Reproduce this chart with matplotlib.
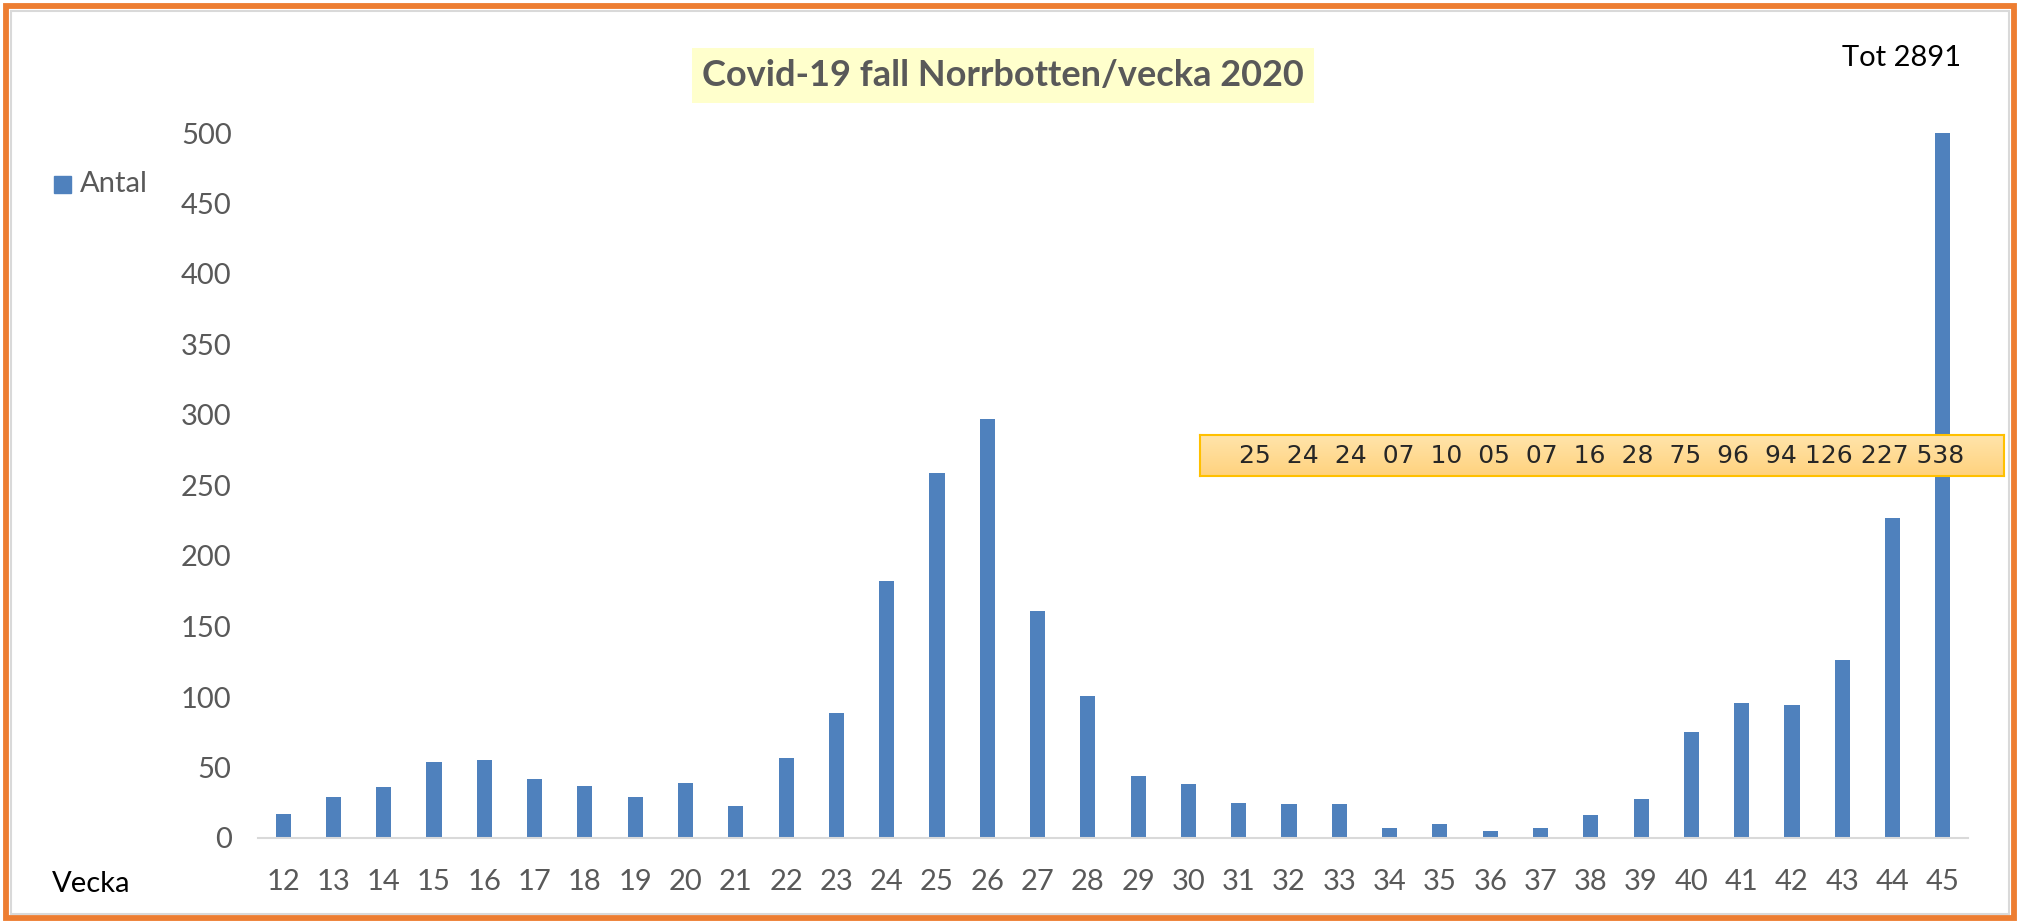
import numpy as np
import matplotlib
matplotlib.use("Agg")
import matplotlib.pyplot as plt
from matplotlib.patches import Rectangle
from matplotlib.colors import LinearSegmentedColormap

vecka = list(range(12, 46))
antal = [17, 29, 36, 54, 55, 42, 37, 29, 39, 23, 57, 89, 182, 259, 297, 161, 101, 44, 38,
         25, 24, 24, 7, 10, 5, 7, 16, 28, 75, 96, 94, 126, 227, 538]
yticks = list(range(0, 501, 50))
title = "Covid-19 fall Norrbotten/vecka 2020"
total_text = "Tot 2891"
# numbers shown in the callout box (week 31 onwards)
box_vals = antal[19:]

plt.rcParams['font.family'] = ['Lato', 'DejaVu Sans']

W, H = 2020, 923
fig = plt.figure(figsize=(W / 100, H / 100), dpi=100)

def fx(px):
    return px / W

def fy(py):
    return 1 - py / H

# main axes
ax = fig.add_axes([fx(258), fy(838), fx(1968 - 258), (838 - 133) / H])
x = np.arange(len(vecka))
ax.bar(x, antal, width=0.3, color='#4F81BD')
ax.set_xlim(-0.5, len(vecka) - 0.5)
ax.set_ylim(0, 500)
ax.set_xticks(x)
ax.set_xticklabels([str(v) for v in vecka])
ax.set_yticks(yticks)
for s in ['top', 'right', 'left']:
    ax.spines[s].set_visible(False)
ax.spines['bottom'].set_color('#D9D9D9')
ax.spines['bottom'].set_linewidth(1.5)
ax.tick_params(axis='both', length=0, labelsize=21, colors='#595959')
ax.tick_params(axis='x', pad=22)
ax.tick_params(axis='y', pad=19)

# axis label / legend / total
fig.text(fx(52), fy(884), "Vecka", va='center', ha='left', fontsize=21, color='black')
fig.patches.append(Rectangle((fx(54), fy(193)), 17 / W, 17 / H,
                             transform=fig.transFigure, color='#4F81BD'))
fig.text(fx(80), fy(184), "Antal", va='center', ha='left', fontsize=21, color='#595959')
fig.text(fx(1842), fy(58), total_text, va='center', ha='left', fontsize=21, color='black')

# title with yellow background
fig.patches.append(Rectangle((fx(692), fy(103)), (1314 - 692) / W, (103 - 48) / H,
                             transform=fig.transFigure, facecolor='#FFFFCC', edgecolor='none'))
fig.text(fx(1003), fy(76), title, ha='center', va='center', fontsize=26,
         fontweight='bold', color='#595959')

# callout box with gradient
bax = fig.add_axes([fx(1200), fy(476), (2004 - 1200) / W, 41 / H])
cmap = LinearSegmentedColormap.from_list('box', ['#FFD27E', '#FFE4AA'])
grad = np.linspace(0, 1, 64).reshape(-1, 1)
bax.imshow(grad, aspect='auto', extent=[0, 1, 0, 1], cmap=cmap, origin='lower')
bax.set_xticks([])
bax.set_yticks([])
for s in bax.spines.values():
    s.set_color('#FFC000')
    s.set_linewidth(1.5)
parts = []
for i, v in enumerate(box_vals):
    if i > 0:
        parts.append(' ' if v >= 100 else '  ')
    parts.append(f'{v:02d}')
bax.text(0.5, 0.5, ''.join(parts), ha='center', va='center', fontsize=18,
         color='#262626', family=['DejaVu Sans'], transform=bax.transAxes)

# frame
fig.patches.append(Rectangle((fx(6), fy(918)), (2014 - 6) / W, (918 - 6) / H,
                             transform=fig.transFigure, fill=False,
                             edgecolor='#ED7D31', linewidth=4.2))
fig.patches.append(Rectangle((fx(11), fy(914)), (2009 - 11) / W, (914 - 11) / H,
                             transform=fig.transFigure, fill=False,
                             edgecolor='#D9D9D9', linewidth=1.5))

fig.savefig('out.png', dpi=100, facecolor='white')
